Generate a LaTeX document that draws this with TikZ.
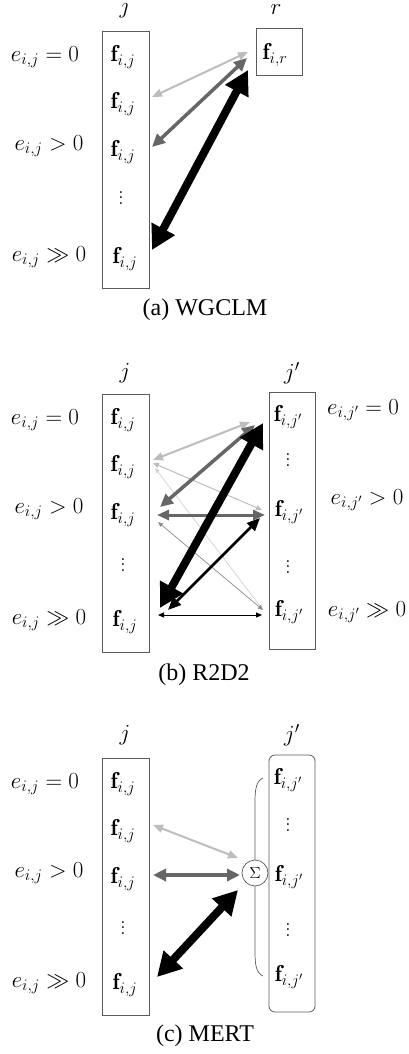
\documentclass[tikz,border=0pt]{standalone}
\usepackage{fix-cm}
\usepackage{fontspec}
\newfontfamily\capfont{Liberation Serif}
\usetikzlibrary{arrows.meta}
\definecolor{lgray}{HTML}{BDBDBD}
\definecolor{dgray}{HTML}{666666}
\definecolor{vlgray}{HTML}{D2D2D2}
\definecolor{mgray}{HTML}{8A8A8A}
\definecolor{boxgray}{HTML}{5A5A5A}
\newcommand{\vdts}{\vbox{\baselineskip=5.5pt\lineskiplimit=-10pt\hbox{.}\hbox{.}\hbox{.}}}
\tikzset{
  ent/.style={inner sep=0pt, font=\fontsize{23}{27}\selectfont},
  lab/.style={inner sep=0pt, font=\fontsize{23}{27}\selectfont},
  captxt/.style={inner sep=0pt, font=\capfont\fontsize{24}{28}\selectfont},
  colbox/.style={draw=boxgray, line width=0.8pt, inner sep=0pt},
  arrL/.style={draw=lgray, line width=2pt, {Triangle[length=10pt,width=8pt]}-{Triangle[length=10pt,width=8pt]}},
  arrD/.style={draw=dgray, line width=3.5pt, {Triangle[length=13pt,width=12pt]}-{Triangle[length=13pt,width=12pt]}},
  arrB/.style={draw=black, line width=8pt, {Triangle[length=24pt,width=25pt]}-{Triangle[length=24pt,width=25pt]}},
  arrBm/.style={draw=black, line width=2.8pt, {Triangle[length=13pt,width=11pt]}-{Triangle[length=13pt,width=11pt]}},
  arrDh/.style={draw=dgray, line width=3pt, {Triangle[length=12pt,width=10pt]}-{Triangle[length=12pt,width=10pt]}},
  arrLt/.style={draw=lgray, line width=1pt, {Triangle[length=6pt,width=5pt]}-{Triangle[length=6pt,width=5pt]}},
  arrVt/.style={draw=vlgray, line width=0.7pt, {Triangle[length=5pt,width=4pt]}-{Triangle[length=5pt,width=4pt]}},
  arrMt/.style={draw=mgray, line width=0.7pt, {Triangle[length=5pt,width=4pt]}-{Triangle[length=5pt,width=4pt]}},
  arrBt/.style={draw=black, line width=0.9pt, {Triangle[length=6pt,width=5pt]}-{Triangle[length=6pt,width=5pt]}},
}
\begin{document}
\begin{tikzpicture}[x=1pt,y=-1pt]
\useasboundingbox (0,0) rectangle (409,1054);
% ================= (a) WGCLM =================
\node[colbox, minimum width=47pt, minimum height=257pt] (aL) at (125.5,159.5) {};
\node[colbox, minimum width=46pt, minimum height=47pt] (aR) at (279,51.5) {};
\node[lab] (aTj) at (125,8.5) {$j$};
\node[lab] (aTr) at (276,10) {$r$};
\node[ent] (aL1) at (123,57) {$\mathbf{f}_{i,j}$};
\node[ent] (aL2) at (123,104) {$\mathbf{f}_{i,j}$};
\node[ent] (aL3) at (123,152) {$\mathbf{f}_{i,j}$};
\node[ent] (aL4) at (121,198) {\vdts};
\node[ent] (aL5) at (125,259) {$\mathbf{f}_{i,j}$};
\node[ent] (aR1) at (275,55) {$\mathbf{f}_{i,r}$};
\node[lab] (aE1) at (45,57) {$e_{i,j} = 0$};
\node[lab] (aE2) at (49,146) {$e_{i,j} > 0$};
\node[lab] (aE3) at (49,257) {$e_{i,j} \gg 0$};
\coordinate (a2) at (152,97);
\coordinate (a3) at (152,147);
\coordinate (a5) at (152,250);
\coordinate (ar2) at (248,52);
\coordinate (ar3) at (247,58);
\coordinate (ar5) at (248,70);
\draw[arrL] (a2) -- (ar2);
\draw[arrD] (a3) -- (ar3);
\draw[arrB] (a5) -- (ar5);
\node[captxt] (capA) at (205,310) {(a) WGCLM};
% ================= (b) R2D2 =================
\node[colbox, minimum width=47pt, minimum height=258pt] (bL) at (125.5,523) {};
\node[colbox, minimum width=46pt, minimum height=257pt] (bR) at (292,520.5) {};
\node[lab] (bTj) at (125,373) {$j$};
\node[lab] (bTjp) at (292,373) {$j'$};
\node[ent] (bL1) at (123,420) {$\mathbf{f}_{i,j}$};
\node[ent] (bL2) at (123,467) {$\mathbf{f}_{i,j}$};
\node[ent] (bL3) at (123,515) {$\mathbf{f}_{i,j}$};
\node[ent] (bL4) at (123,565) {\vdts};
\node[ent] (bL5) at (125,622) {$\mathbf{f}_{i,j}$};
\node[ent] (bR1) at (288,417) {$\mathbf{f}_{i,j'}$};
\node[ent] (bR2) at (288,460) {\vdts};
\node[ent] (bR3) at (289,512) {$\mathbf{f}_{i,j'}$};
\node[ent] (bR4) at (288,567) {\vdts};
\node[ent] (bR5) at (289,612) {$\mathbf{f}_{i,j'}$};
\node[lab] (bE1) at (45,420) {$e_{i,j} = 0$};
\node[lab] (bE2) at (49,509) {$e_{i,j} > 0$};
\node[lab] (bE3) at (49,620) {$e_{i,j} \gg 0$};
\node[lab] (bF1) at (363,410) {$e_{i,j'} = 0$};
\node[lab] (bF2) at (367,500) {$e_{i,j'} > 0$};
\node[lab] (bF3) at (367,612) {$e_{i,j'} \gg 0$};
% left end points
\coordinate (b21) at (153,460);
\coordinate (b23) at (153,463);
\coordinate (b25) at (155,468);
\coordinate (b31) at (160,507);
\coordinate (b33) at (157,515);
\coordinate (b35) at (158,522);
\coordinate (b51) at (160,608);
\coordinate (b53) at (168,610);
\coordinate (b55) at (158,615);
% right end points
\coordinate (r21) at (250,422);
\coordinate (r23) at (262,510);
\coordinate (r25) at (263,610);
\coordinate (r31) at (255,425);
\coordinate (r33) at (265,515);
\coordinate (r35) at (263,610);
\coordinate (r51) at (263,423);
\coordinate (r53) at (260,518);
\coordinate (r55) at (262,615);
\draw[arrVt] (b25) -- (r25);
\draw[arrMt] (b35) -- (r35);
\draw[arrLt] (b23) -- (r23);
\draw[arrBt] (b55) -- (r55);
\draw[arrL] (b21) -- (r21);
\draw[arrDh] (b33) -- (r33);
\draw[arrD] (b31) -- (r31);
\draw[arrBm] (b53) -- (r53);
\draw[arrB] (b51) -- (r51);
\node[captxt] (capB) at (204,675) {(b) R2D2};
% ================= (c) MERT =================
\node[colbox, minimum width=47pt, minimum height=257pt] (cL) at (125.5,886.5) {};
\node[colbox, rounded corners=6pt, minimum width=46pt, minimum height=257pt] (cR) at (292,883.5) {};
\node[lab] (cTj) at (125,735) {$j$};
\node[lab] (cTjp) at (292,735) {$j'$};
\node[ent] (cL1) at (123,784) {$\mathbf{f}_{i,j}$};
\node[ent] (cL2) at (123,831) {$\mathbf{f}_{i,j}$};
\node[ent] (cL3) at (123,879) {$\mathbf{f}_{i,j}$};
\node[ent] (cL4) at (123,928) {\vdts};
\node[ent] (cL5) at (125,985) {$\mathbf{f}_{i,j}$};
\node[ent] (cR1) at (288,780) {$\mathbf{f}_{i,j'}$};
\node[ent] (cR2) at (288,825) {\vdts};
\node[ent] (cR3) at (289,877) {$\mathbf{f}_{i,j'}$};
\node[ent] (cR4) at (288,930) {\vdts};
\node[ent] (cR5) at (289,977) {$\mathbf{f}_{i,j'}$};
\node[lab] (cE1) at (45,784) {$e_{i,j} = 0$};
\node[lab] (cE2) at (49,873) {$e_{i,j} > 0$};
\node[lab] (cE3) at (49,983) {$e_{i,j} \gg 0$};
\draw[boxgray, line width=0.7pt] (263,778) .. controls (256,781) and (255,790) .. (255,802) -- (255,952) .. controls (255,964) and (256,973) .. (263,976);
\node[circle, draw=boxgray, fill=white, line width=0.7pt, minimum size=26pt, inner sep=0pt, font=\fontsize{16}{18}\selectfont] (sig) at (255,873) {$\Sigma$};
\coordinate (c2) at (153,825);
\coordinate (c3) at (153,875);
\coordinate (c5) at (157,977);
\coordinate (s2) at (238,858);
\coordinate (s3) at (240,875);
\coordinate (s5) at (238,890);
\draw[arrL] (c2) -- (s2);
\draw[arrD] (c3) -- (s3);
\draw[arrB] (c5) -- (s5);
\node[captxt] (capC) at (205,1036) {(c) MERT};
\end{tikzpicture}
\end{document}
